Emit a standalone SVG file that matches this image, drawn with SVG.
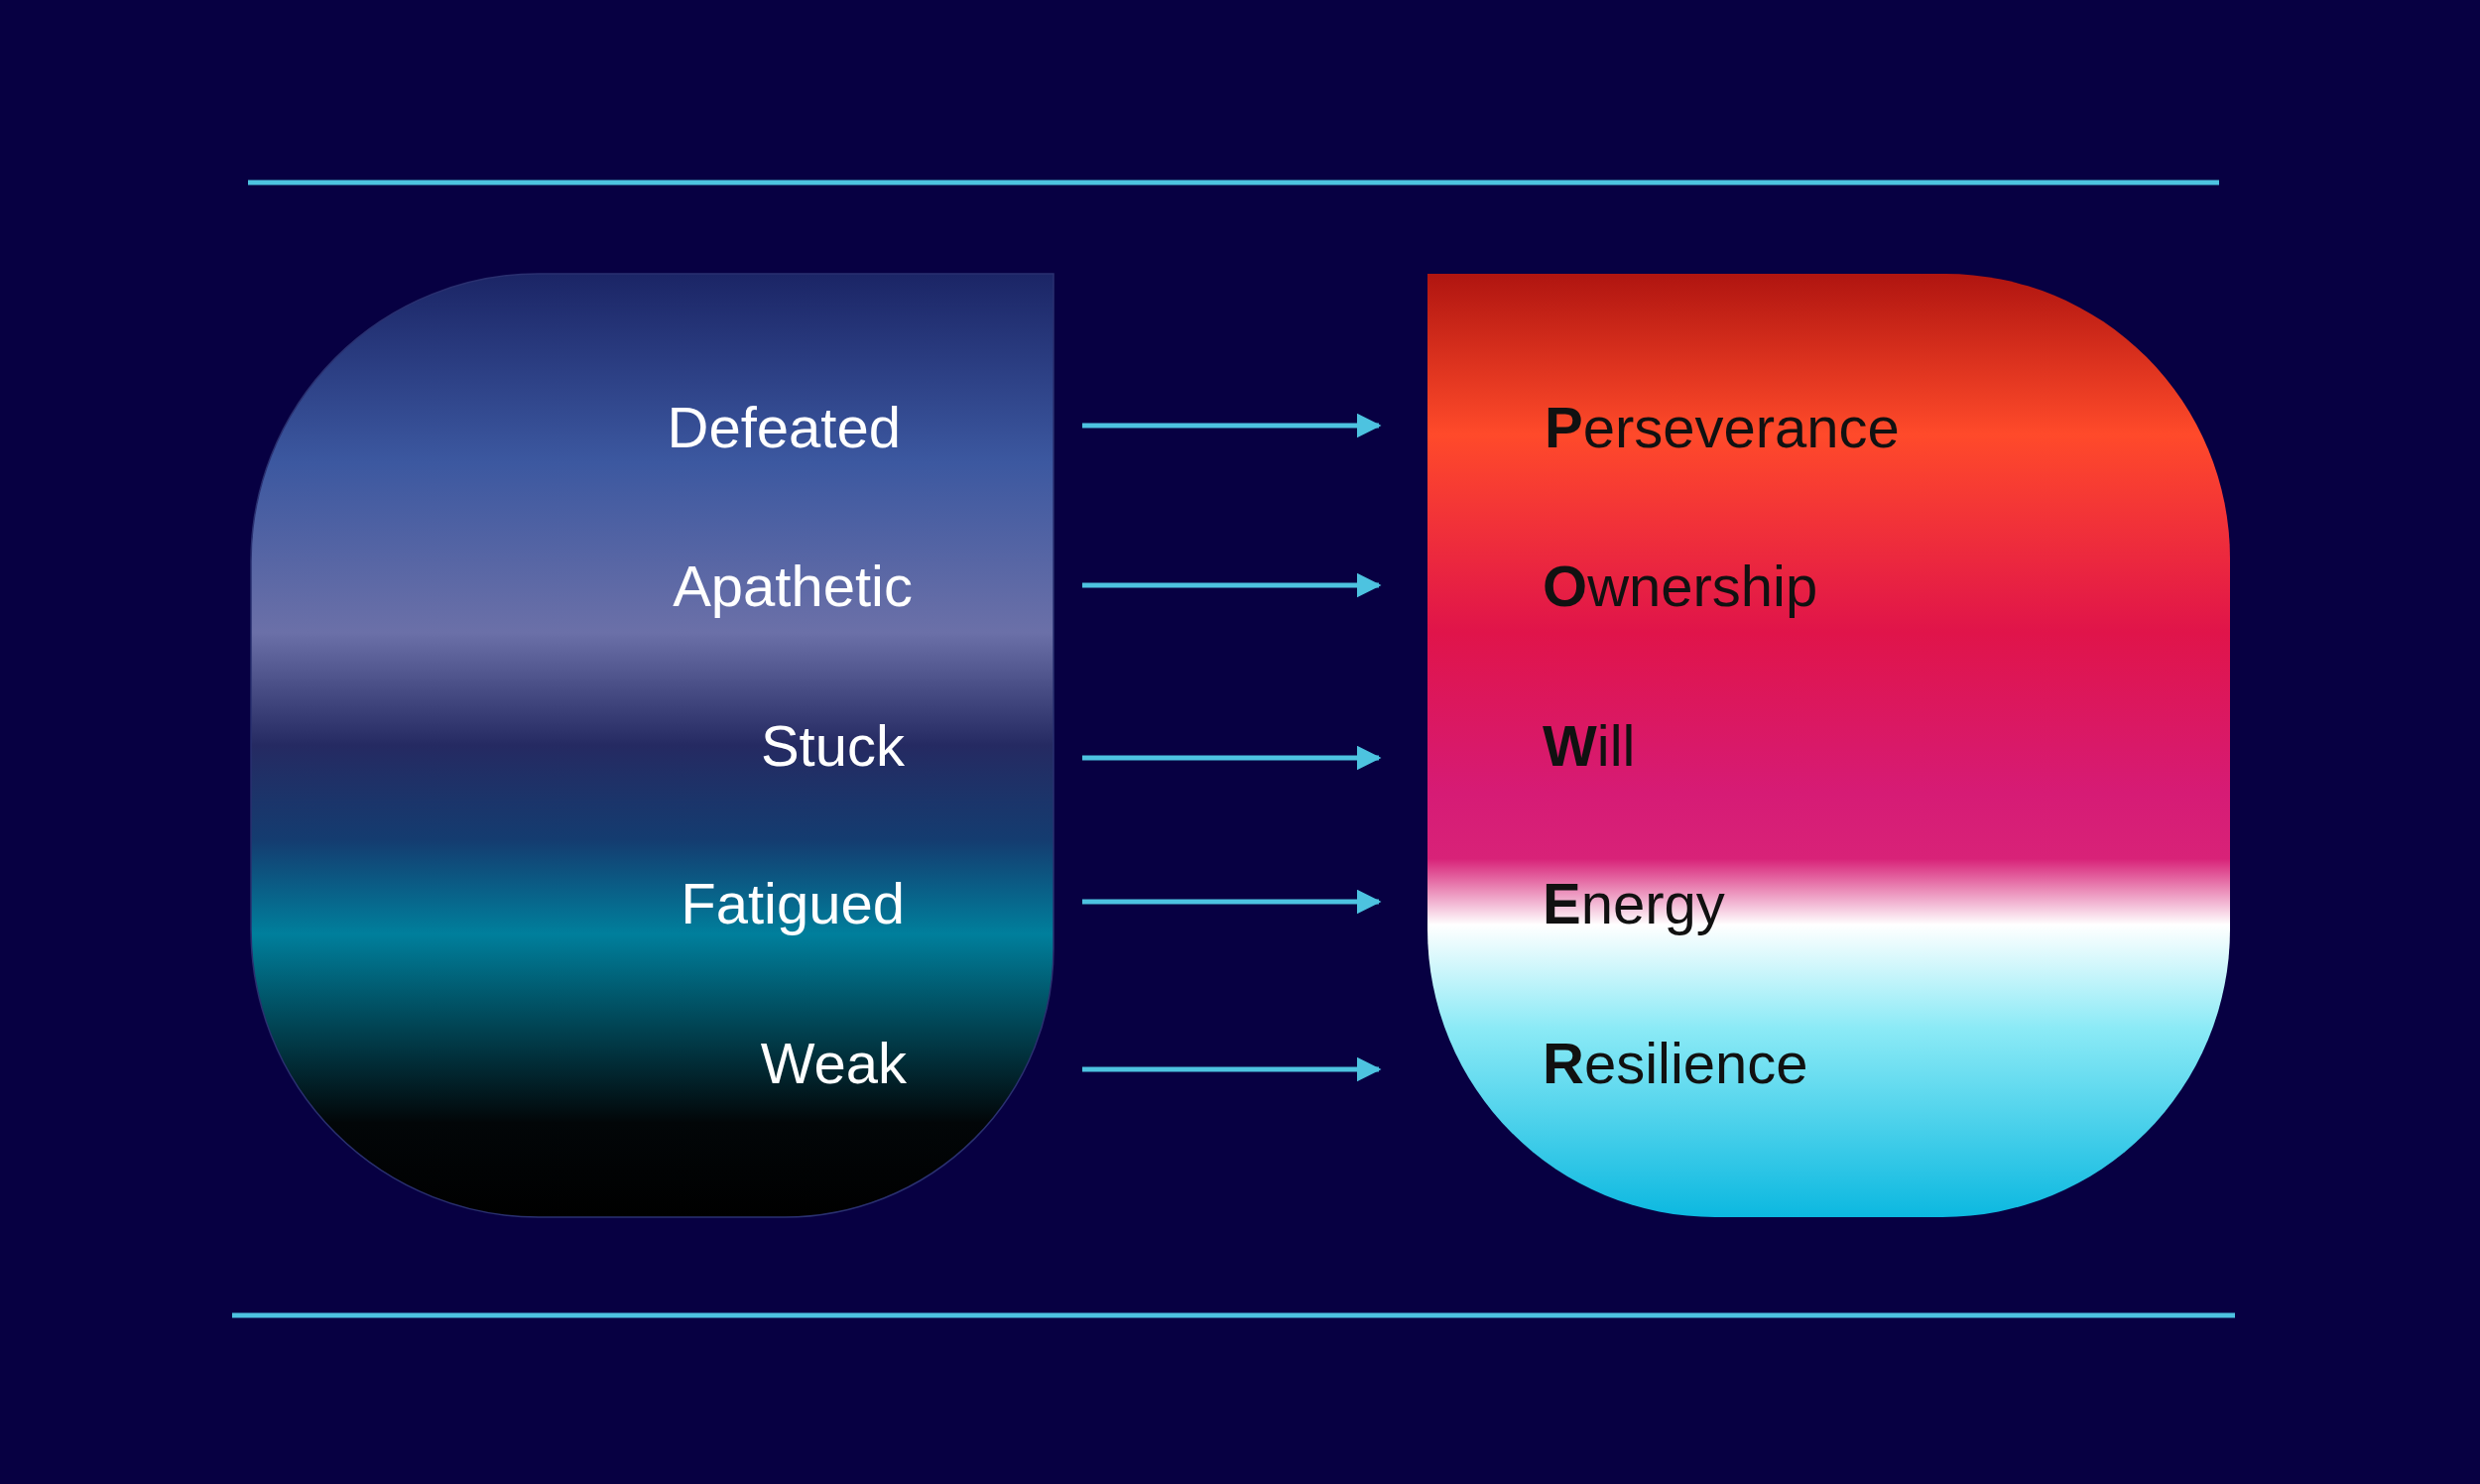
<svg xmlns="http://www.w3.org/2000/svg" width="2500" height="1496" viewBox="0 0 2500 1496">
<style>
.l{font-family:"Helvetica Neue","Liberation Sans",Arial,sans-serif;font-size:58px;fill:#fff;text-anchor:end}
.r{font-family:"Helvetica Neue","Liberation Sans",Arial,sans-serif;font-size:58px;fill:#111}
.r tspan{font-weight:bold}
.c{stroke:#4dc3e0;stroke-width:5;fill:none}
</style>
<defs>
<linearGradient id="gl" x1="0" y1="276" x2="0" y2="1227" gradientUnits="userSpaceOnUse">
<stop offset="0" stop-color="#1b2566"/>
<stop offset="0.2" stop-color="#3c58a0"/>
<stop offset="0.38" stop-color="#6b70a8"/>
<stop offset="0.5" stop-color="#252a62"/>
<stop offset="0.6" stop-color="#143c70"/>
<stop offset="0.7" stop-color="#007f9c"/>
<stop offset="0.9" stop-color="#020608"/>
<stop offset="1" stop-color="#000"/>
</linearGradient>
<linearGradient id="gr" x1="0" y1="276" x2="0" y2="1227" gradientUnits="userSpaceOnUse">
<stop offset="0" stop-color="#b01510"/>
<stop offset="0.17" stop-color="#ff4a2a"/>
<stop offset="0.38" stop-color="#e0144a"/>
<stop offset="0.55" stop-color="#d61b75"/>
<stop offset="0.62" stop-color="#d82278"/>
<stop offset="0.69" stop-color="#ffffff"/>
<stop offset="0.8" stop-color="#8beaf6"/>
<stop offset="1" stop-color="#0cb8e0"/>
</linearGradient>
<marker id="a" viewBox="0 0 10 10" refX="9" refY="5" markerWidth="5" markerHeight="5" orient="auto" markerUnits="strokeWidth"><path d="M0 0L10 5L0 10z" fill="#4dc3e0"/></marker>
</defs>
<rect width="2500" height="1496" fill="#070042"/>
<g id="lines">
<line x1="250" y1="184" x2="2237" y2="184" class="c" stroke-width="4"/>
<line x1="234" y1="1326" x2="2253" y2="1326" class="c" stroke-width="4"/>
</g>
<g id="left">
<path d="M543 276H1062V956A271 271 0 0 1 791 1227H543A290 290 0 0 1 253 937V566A290 290 0 0 1 543 276Z" fill="url(#gl)" stroke="#2a3070" stroke-width="1.5"/>
<text class="l" x="908" y="451">Defeated</text>
<text class="l" x="920" y="611">Apathetic</text>
<text class="l" x="912" y="772">Stuck</text>
<text class="l" x="912" y="931">Fatigued</text>
<text class="l" x="914" y="1092">Weak</text>
</g>
<g id="right">
<path d="M1439 276H1961A287 287 0 0 1 2248 563V937A290 290 0 0 1 1958 1227H1729A290 290 0 0 1 1439 937Z" fill="url(#gr)"/>
<text class="r" x="1557" y="451"><tspan>P</tspan>erseverance</text>
<text class="r" x="1555" y="611"><tspan>O</tspan>wnership</text>
<text class="r" x="1555" y="772"><tspan>W</tspan>ill</text>
<text class="r" x="1555" y="931"><tspan>E</tspan>nergy</text>
<text class="r" x="1555" y="1092"><tspan>R</tspan>esilience</text>
</g>
<g id="connectors">
<line class="c" x1="1091" y1="429" x2="1390" y2="429" marker-end="url(#a)"/>
<line class="c" x1="1091" y1="590" x2="1390" y2="590" marker-end="url(#a)"/>
<line class="c" x1="1091" y1="764" x2="1390" y2="764" marker-end="url(#a)"/>
<line class="c" x1="1091" y1="909" x2="1390" y2="909" marker-end="url(#a)"/>
<line class="c" x1="1091" y1="1078" x2="1390" y2="1078" marker-end="url(#a)"/>
</g>
</svg>
